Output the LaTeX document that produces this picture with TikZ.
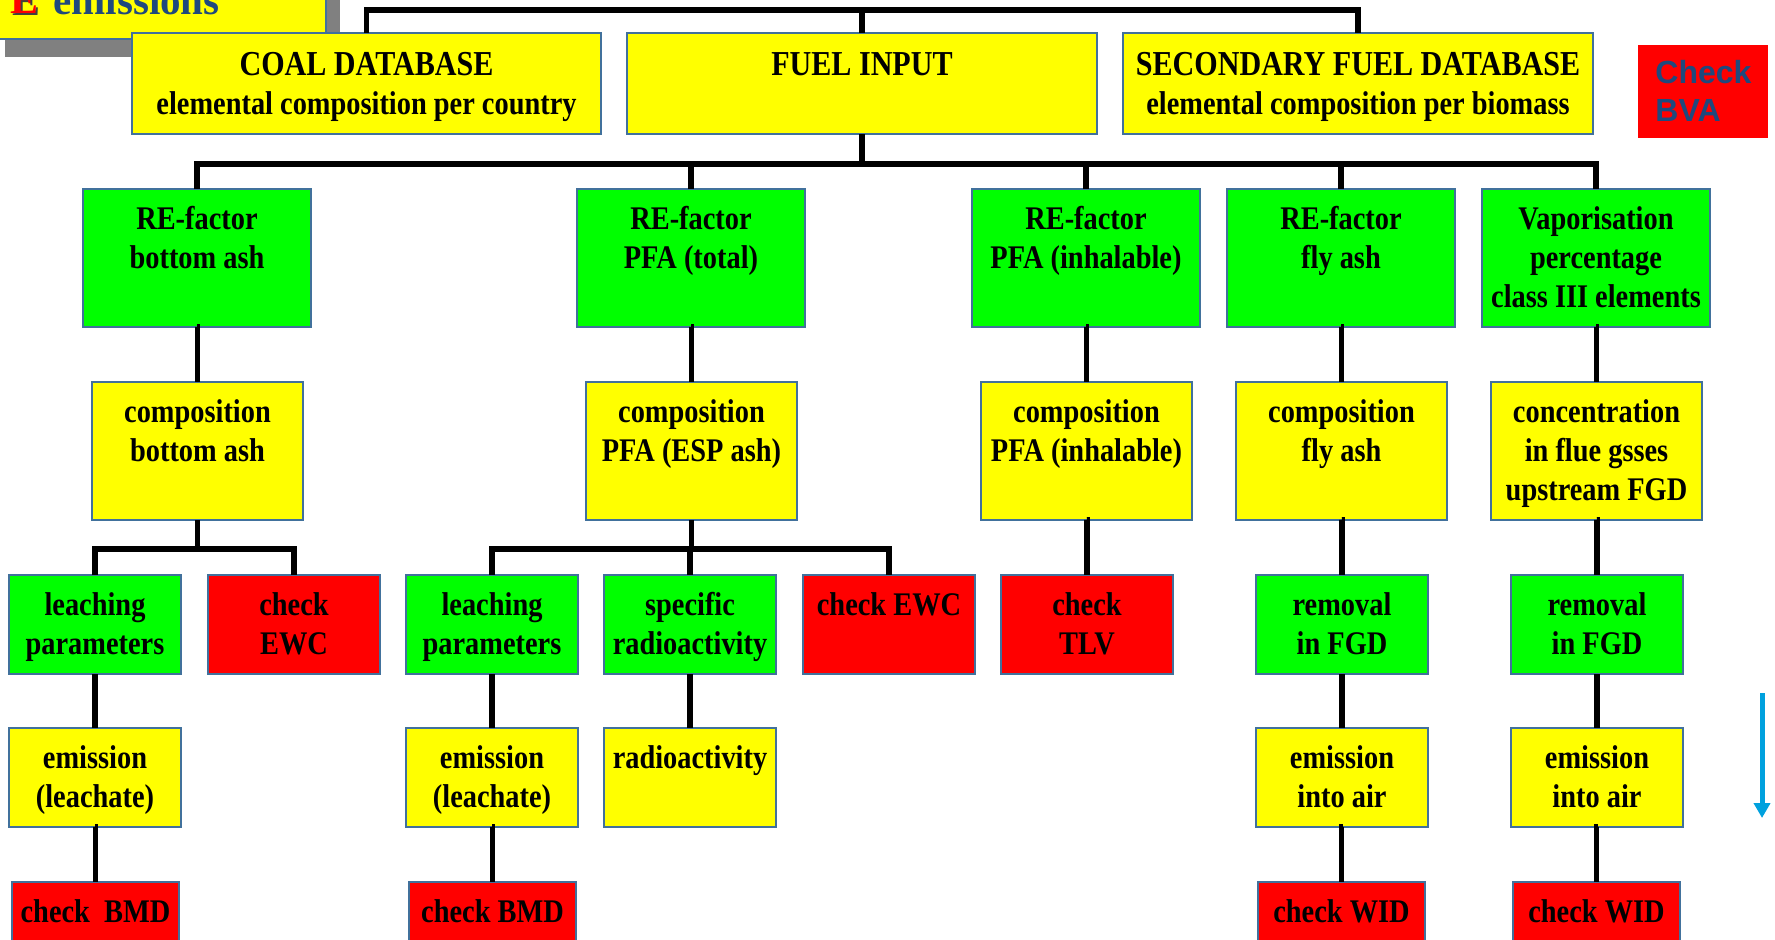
\documentclass[tikz,border=0pt]{standalone}
\usepackage{fontspec}
\setmainfont{Liberation Serif}[FakeStretch=0.86]
\newfontfamily\titlefont{Liberation Serif}
\newfontfamily\bvafont{Liberation Sans}
\usetikzlibrary{arrows.meta}
\definecolor{bxyellow}{RGB}{255,255,0}
\definecolor{bxgreen}{RGB}{0,255,0}
\definecolor{bxred}{RGB}{255,0,0}
\definecolor{bxedge}{RGB}{65,113,156}
\definecolor{titleblue}{RGB}{31,73,125}
\definecolor{arrowblue}{RGB}{0,161,222}
\definecolor{shadowgray}{RGB}{128,128,128}
\tikzset{
  box/.style={draw=bxedge, line width=0.8pt, inner sep=0pt, outer sep=0pt,
    font=\bfseries\fontsize{16.5pt}{19.5pt}\selectfont},
  conn/.style={draw=black, line width=2.7pt, line join=miter},
}
% name, fill, x1, y1, w, h, text
\newcommand\bx[7]{%
  \node[box, fill=#2, anchor=north west] (#1) at (#3,#4)
  {\parbox[c][\dimexpr 0.5pt*\numexpr #6\relax\relax][t]{\dimexpr 0.5pt*\numexpr #5\relax\relax}{\centering\rule{0pt}{20pt}#7\par}};}
\newcommand\bigline{\fontsize{17.5pt}{19.5pt}\selectfont\rule{0pt}{21pt}}
\begin{document}
\begin{tikzpicture}[x=0.5pt,y=-0.5pt]
\useasboundingbox (0,0) rectangle (1775,939);
\clip (0,0) rectangle (1775,939);
% title box (cut off)
\node[fill=shadowgray, inner sep=0pt, minimum width=167.5pt, minimum height=56.5pt, anchor=south east] (titleshadow) at (340,57) {};
\node[box, fill=bxyellow, minimum width=167.5pt, minimum height=56.5pt, anchor=south east] (title) at (326,39) {};
\node[anchor=base west, inner sep=0pt, text=black!75, font=\titlefont\bfseries\fontsize{21pt}{21pt}\selectfont] (tEs) at (12,15) {E};
\node[anchor=base west, inner sep=0pt, text=bxred, font=\titlefont\bfseries\fontsize{21pt}{21pt}\selectfont] (tE) at (10,13) {E};
\node[anchor=base west, inner sep=0pt, text=titleblue, font=\titlefont\bfseries\fontsize{20.5pt}{20.5pt}\selectfont] (tem) at (53,14) {emissions};
% row 1
\bx{coal}{bxyellow}{132}{33}{469}{101}{{\bigline COAL DATABASE}\\elemental composition per country}
\bx{fuel}{bxyellow}{627}{33}{470}{101}{{\bigline FUEL INPUT}}
\bx{sec}{bxyellow}{1123}{33}{470}{101}{{\bigline SECONDARY FUEL DATABASE}\\elemental composition per biomass}
\node[fill=bxred, inner sep=0pt, anchor=north west, text=titleblue, font=\bvafont\bfseries\fontsize{16pt}{19pt}\selectfont] (bva) at (1638,45)
  {\parbox[c][46.5pt][t]{65pt}{\raggedright\leftskip=8.5pt\rule{0pt}{19pt}Check\\BVA\par}};
% row 2
\bx{g1}{bxgreen}{83}{189}{228}{138}{RE-factor\\bottom ash}
\bx{g2}{bxgreen}{577}{189}{228}{138}{RE-factor\\PFA (total)}
\bx{g3}{bxgreen}{972}{189}{228}{138}{RE-factor\\PFA (inhalable)}
\bx{g4}{bxgreen}{1227}{189}{228}{138}{RE-factor\\fly ash}
\bx{g5}{bxgreen}{1482}{189}{228}{138}{Vaporisation\\percentage\\class III elements}
% row 3
\bx{c1}{bxyellow}{92}{382}{211}{138}{composition\\bottom ash}
\bx{c2}{bxyellow}{586}{382}{211}{138}{composition\\PFA (ESP ash)}
\bx{c3}{bxyellow}{981}{382}{211}{138}{composition\\PFA (inhalable)}
\bx{c4}{bxyellow}{1236}{382}{211}{138}{composition\\fly ash}
\bx{c5}{bxyellow}{1491}{382}{211}{138}{concentration\\in flue gsses\\upstream FGD}
% row 4
\bx{l1}{bxgreen}{9}{575}{172}{99}{leaching\\parameters}
\bx{e1}{bxred}{208}{575}{172}{99}{check\\EWC}
\bx{l2}{bxgreen}{406}{575}{172}{99}{leaching\\parameters}
\bx{sp}{bxgreen}{604}{575}{172}{99}{specific\\radioactivity}
\bx{e2}{bxred}{803}{575}{172}{99}{check EWC}
\bx{tlv}{bxred}{1001}{575}{172}{99}{check\\TLV}
\bx{r1}{bxgreen}{1256}{575}{172}{99}{removal\\in FGD}
\bx{r2}{bxgreen}{1511}{575}{172}{99}{removal\\in FGD}
% row 5
\bx{m1}{bxyellow}{9}{728}{172}{99}{emission\\(leachate)}
\bx{m2}{bxyellow}{406}{728}{172}{99}{emission\\(leachate)}
\bx{rad}{bxyellow}{604}{728}{172}{99}{radioactivity}
\bx{a1}{bxyellow}{1256}{728}{172}{99}{emission\\into air}
\bx{a2}{bxyellow}{1511}{728}{172}{99}{emission\\into air}
% row 6
\bx{b1}{bxred}{12}{882}{167}{80}{check~~BMD}
\bx{b2}{bxred}{409}{882}{167}{80}{check BMD}
\bx{w1}{bxred}{1258}{882}{167}{80}{check WID}
\bx{w2}{bxred}{1513}{882}{167}{80}{check WID}
% connectors
\coordinate (tb) at (0,10);
\coordinate (mb) at (0,164);
\coordinate (sb) at (0,549);
\draw[conn] (coal.north) |- (sec.north |- tb) -- (sec.north);
\draw[conn] (fuel.north) -- (fuel.north |- tb);
\draw[conn] (fuel.south) -- (fuel.south |- mb);
\draw[conn] (g1.north) |- (g5.north |- mb) -- (g5.north);
\foreach \g in {g2,g3,g4} \draw[conn] (\g.north) -- (\g.north |- mb);
\foreach \a/\b in {g1/c1,g2/c2,g3/c3,g4/c4,g5/c5,c3/tlv,c4/r1,c5/r2,l1/m1,l2/m2,sp/rad,r1/a1,r2/a2,m1/b1,m2/b2,a1/w1,a2/w2}
  \draw[conn] (\a.south) -- (\a.south -| \b.north) -- (\b.north);
\draw[conn] (c1.south) -- (c1.south |- sb);
\draw[conn] (l1.north) |- (e1.north |- sb) -- (e1.north);
\draw[conn] (c2.south) -- (c2.south |- sb);
\draw[conn] (l2.north) |- (e2.north |- sb) -- (e2.north);
\draw[conn] (sp.north) -- (sp.north |- sb);
% blue arrow
\coordinate (arrS) at (1762,693);
\coordinate (arrE) at (1762,818);
\draw[arrowblue, line width=2.5pt, -{Triangle[width=8pt,length=7.5pt]}] (arrS) -- (arrE);
\end{tikzpicture}
\end{document}
